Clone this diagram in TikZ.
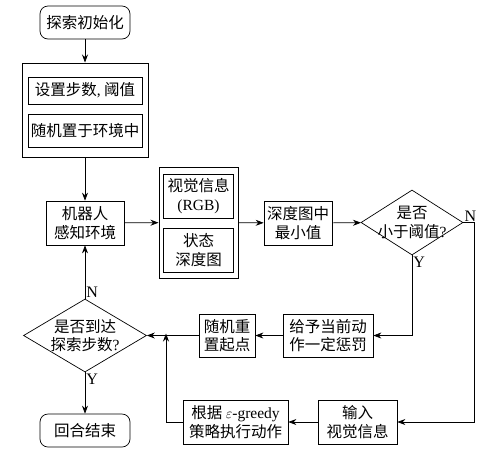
\documentclass[tikz,border=0pt]{standalone}
\usepackage{fontspec}
\setmainfont{Noto Sans CJK SC}
\newfontfamily\latfont{Liberation Serif}
\usetikzlibrary{arrows.meta,shapes.geometric}

\tikzset{
	block/.style={draw, line width=0.7pt, align=center, inner sep=0pt},
	term/.style={block, rounded corners=8pt, minimum width=90pt, minimum height=33pt},
	test/.style={draw, line width=0.7pt, diamond, inner sep=0pt},
	flow/.style={line width=0.7pt, -{Stealth[length=8pt, width=6pt]}},
	tag/.style={font=\latfont\fontsize{16}{18}\selectfont, inner sep=1pt}
}

\begin{document}
\begin{tikzpicture}[x=1pt, y=-1pt, font=\fontsize{15.5}{18.5}\selectfont]
		\useasboundingbox (0, 0) rectangle (487, 459);
		
		% Start
		\node [term] (start) at (85, 22.5) {探索初始化};
		
		% Initialisation Block
		\node [block, line width=1pt, minimum width=126pt, minimum height=94pt] (init) at (85, 110) {};
		\node [block, minimum width=114pt, minimum height=27pt] (setup) at (85, 90.5) {设置步数{\latfont,} 阈值};
		\node [block, minimum width=114pt, minimum height=33pt] (place) at (85, 130.5) {随机置于环境中};
		
		% Perception
		\node [block, minimum width=78pt, minimum height=44pt] (sense) at (85, 223) {机器人\\感知环境};
		\node [block, line width=1pt, minimum width=79pt, minimum height=111pt] (percept) at (198.5, 222.5) {};
		\node [block, minimum width=70pt, minimum height=44pt] (rgb) at (198.5, 196) {视觉信息\\{\latfont(RGB)}};
		\node [block, minimum width=70pt, minimum height=44pt] (depth) at (198.5, 250) {状态\\深度图};
		\node [block, minimum width=68pt, minimum height=44pt] (minval) at (298, 223) {深度图中\\最小值};
		
		% Threshold Test
		\node [test, minimum width=102pt, minimum height=65pt] (thresh) at (412, 222.5) {};
		\node [align=center, inner sep=0pt] (thresh-text) at (412, 222.5) {是否\\小于阈值{\latfont?}};
		
		% Step Test
		\node [test, minimum width=123pt, minimum height=73pt] (steps) at (85, 335.5) {};
		\node [align=center, inner sep=0pt] (steps-text) at (85, 335.5) {是否到达\\探索步数{\latfont?}};
		
		% Penalty Branch
		\node [block, minimum width=56pt, minimum height=43pt] (reset) at (227, 335.5) {随机重\\置起点};
		\node [block, minimum width=90pt, minimum height=43pt] (penalty) at (328, 335.5) {给予当前动\\作一定惩罚};
		
		% Action Branch
		\node [block, minimum width=105pt, minimum height=44pt] (act) at (235.5, 422) {根据 {\latfont$\varepsilon$-greedy}\\策略执行动作};
		\node [block, minimum width=79pt, minimum height=44pt] (input) at (357.5, 422) {输入\\视觉信息};
		
		% End
		\node [term] (finish) at (85, 430.5) {回合结束};
		
		% Joins
		\coordinate (nturn) at (474, 222.5);
		\coordinate (merge) at (166, 335.5);
		
		% Signals
		\draw [flow] (start) -- (init);
		\draw [flow] (init) -- (sense);
		\draw [flow] (sense) -- (percept);
		\draw [flow] (percept) -- (minval);
		\draw [flow] (minval) -- (thresh);
		
		% N: input visual information
		\draw [flow] (thresh.east) node [tag, above right] {N} -- (nturn) |- (input.east);
		
		% Y: penalty
		\draw [flow] (thresh.south) node [tag, below right] {Y} |- (penalty.east);
		\draw [flow] (penalty) -- (reset);
		\draw [flow] (reset) -- (steps.east);
		
		\draw [flow] (input) -- (act);
		\draw [flow] (act.west) -| ([yshift=2pt]merge);
		
		% Step test outcomes
		\draw [flow] (steps.north) node [tag, above right] {N} -- (sense);
		\draw [flow] (steps.south) node [tag, below right] {Y} -- (finish);
		
	\end{tikzpicture}
\end{document}
